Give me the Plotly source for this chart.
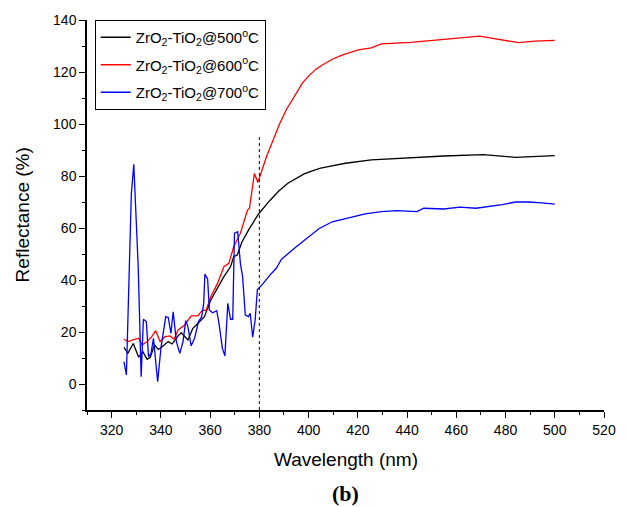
import plotly.graph_objects as go

# ---- data ----
wl_500 = [325, 326.6, 328.8, 331, 332.7, 334.4, 335.7, 337.4, 339, 340.3, 343, 344.6, 347, 348.3, 351,
          353, 355, 357.7, 360.3, 363, 365.6, 368.3, 369.6, 371, 373, 375.6, 379.6, 384.3, 388, 391.6,
          395, 398.2, 401.5, 404.9, 408, 415, 425.5, 439, 455, 471, 484, 500]
refl_500 = [14.1, 11.8, 15.6, 10.3, 12.4, 9.5, 10.3, 15, 13.3, 14.1, 16.3, 15.4, 18.5, 19.7, 16.9,
            21.4, 23.3, 25.9, 32.3, 36.8, 41.3, 45.1, 49, 49.6, 54.7, 59.2, 65.3, 70.6, 74.3, 77.2,
            79.1, 80.8, 82.0, 83.0, 83.6, 84.9, 86.2, 86.9, 87.7, 88.2, 87.2, 87.8]

wl_600 = [325, 326.8, 328.4, 331, 332.4, 334.4, 336.3, 337.9, 339.7, 341.7, 343.7, 345.4, 347, 349.7, 352.3,
          355, 357, 358.3, 360.3, 363, 365.6, 367.6, 369.6, 372.3, 375.2, 376, 378, 379.4, 382.9, 385.6,
          388.2, 390.9, 394.9, 397.6, 400.2, 402.9, 405.6, 409.6, 413.6, 417.5, 420.2, 425.5, 429.5, 441.5,
          452, 460, 469.5, 476, 485.4, 492, 500]
refl_600 = [17.2, 16.3, 16.9, 17.6, 15, 16.3, 18.2, 20.5, 16.3, 18.2, 18.5, 17.2, 20.8, 22.7, 26.2,
            26.2, 28.5, 28.2, 33.6, 38.7, 45.1, 46.4, 52.8, 58, 66.9, 67.6, 81, 77.5, 87.4, 93.8,
            100.0, 105.4, 112.0, 115.9, 118.6, 121.0, 122.7, 124.9, 126.5, 127.8, 128.5, 129.3, 130.8, 131.4,
            132.3, 132.7, 133.8, 132.7, 131.3, 131.9, 132.2]

wl_700 = [325, 326, 328, 329, 330.8, 332, 332.9, 334.1, 335, 336, 337, 338.7, 340.1, 342, 343,
          344.1, 345, 346.3, 347.7, 349, 350.1, 351, 352.3, 353.7, 355.3, 356.6, 357.4, 357.9, 359, 359.7,
          361, 362.7, 363.6, 365, 366, 367.2, 368.3, 369.2, 369.9, 371.2, 372.3, 373.2, 374.3, 375.6, 376.3,
          377.3, 378.3, 379.2, 381.6, 384.3, 386.9, 389, 395, 404.2, 409.6, 415, 423, 429.5, 436, 444,
          446.8, 455, 461.5, 468, 473.4, 478.7, 484, 489.4, 494.7, 500]
refl_700 = [8.6, 3.5, 73, 84.5, 45, 2.8, 24.9, 24, 10.5, 11.8, 17.6, 0.9, 14.4, 25.9, 25.6,
            19.5, 27.8, 16.3, 11.8, 16.3, 24.4, 22, 14.7, 17.6, 24, 25.9, 31, 42.3, 40.3, 28.5,
            27.4, 28.2, 23.3, 13.7, 10.8, 31, 24.9, 24.9, 58, 58.6, 46.4, 41.3, 26.5, 25.9, 27.2,
            18, 24.6, 36.2, 38.7, 41.9, 44.5, 48, 52.8, 59.7, 62.4, 63.5, 65.4, 66.3, 66.7, 66.3,
            67.6, 67.3, 68, 67.6, 68.2, 69, 70, 70, 69.7, 69.2]

marker_wl = [380, 380]
marker_refl = [-10, 96]

names = ["ZrO<sub>2</sub>-TiO<sub>2</sub>@500<sup>o</sup>C",
         "ZrO<sub>2</sub>-TiO<sub>2</sub>@600<sup>o</sup>C",
         "ZrO<sub>2</sub>-TiO<sub>2</sub>@700<sup>o</sup>C"]
colors = ["black", "red", "blue"]

FONT = "Liberation Sans, Arial, sans-serif"

fig = go.Figure()
for i, (wl, r, n, c) in enumerate([(wl_500, refl_500, names[0], colors[0]),
                                   (wl_600, refl_600, names[1], colors[1]),
                                   (wl_700, refl_700, names[2], colors[2])]):
    fig.add_trace(go.Scatter(x=wl, y=r, mode="lines", name=n, legendgroup=f"g{i}",
                             line=dict(color=c, width=1.3)))

fig.add_trace(go.Scatter(x=marker_wl, y=marker_refl, mode="lines", showlegend=False,
                         line=dict(color="black", width=1, dash="dot")))

axis_common = dict(showline=True, linecolor="black", linewidth=1.5, showgrid=False, zeroline=False,
                   ticks="outside", ticklen=6, tickwidth=1.3, tickcolor="black",
                   tickfont=dict(family=FONT, size=14, color="black"), mirror=False,
                   minor=dict(ticks="outside", ticklen=3.5, tickwidth=1.3, tickcolor="black", dtick=10))

fig.update_xaxes(range=[310, 520], dtick=20, tick0=0, **axis_common)
fig.update_yaxes(range=[-10, 140], dtick=20, tick0=0, **axis_common)

fig.update_layout(
    width=628, height=507,
    margin=dict(l=87, r=14, t=20, b=97),
    paper_bgcolor="white", plot_bgcolor="white",
    showlegend=True,
    legend=dict(x=0.015, y=1.0, xanchor="left", yanchor="top",
                bordercolor="black", borderwidth=1, bgcolor="white",
                font=dict(family=FONT, size=15, color="black"),
                tracegroupgap=5),
    annotations=[
        dict(text="Wavelength (nm)", xref="paper", yref="paper", x=0.5, y=-0.128,
             xanchor="center", yanchor="middle", showarrow=False,
             font=dict(family=FONT, size=19, color="black")),
        dict(text="Reflectance (%)", xref="paper", yref="paper", x=-0.125, y=0.5,
             xanchor="center", yanchor="middle", showarrow=False, textangle=-90,
             font=dict(family=FONT, size=19, color="black")),
        dict(text="<b>(b)</b>", xref="paper", yref="paper", x=0.5, y=-0.214,
             xanchor="center", yanchor="middle", showarrow=False,
             font=dict(family="Liberation Serif, Times New Roman, serif", size=22, color="black")),
    ],
)

fig.write_html("out.html")
